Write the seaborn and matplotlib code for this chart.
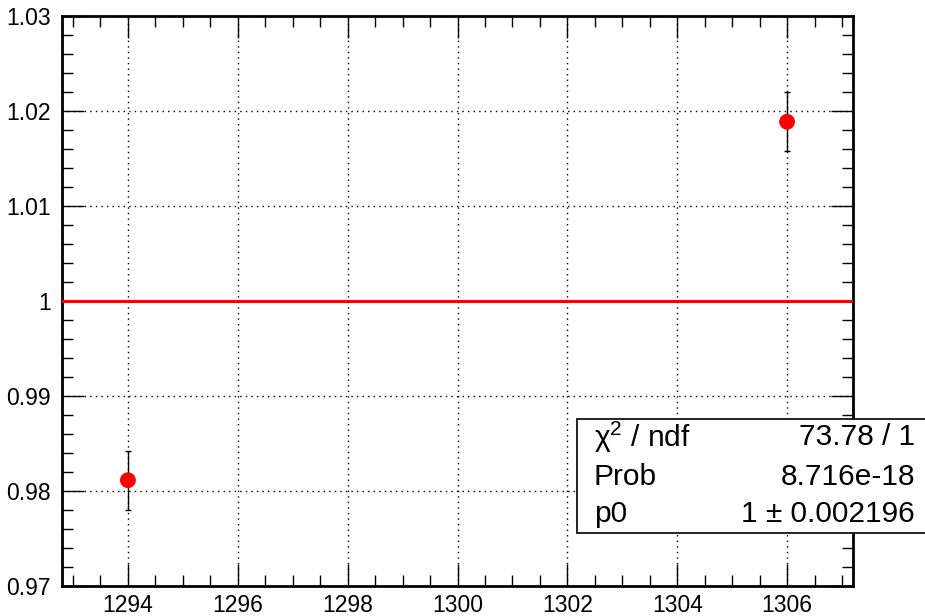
import numpy as np
import pandas as pd
import matplotlib
matplotlib.use("Agg")
import matplotlib.pyplot as plt
from matplotlib.ticker import MultipleLocator, FuncFormatter
from matplotlib.patches import Rectangle
import seaborn as sns

# measurements: run number, ratio, uncertainty
runs = [1294, 1306]
ratios = [0.981135, 1.018865]
errors = [0.003106, 0.003106]

# constant fit result
fit_p0 = 1.0
fit_p0_err = 0.002196
fit_chi2 = 73.78
fit_ndf = 1
fit_prob = "8.716e-18"

x_range = [1292.8, 1307.2]
y_range = [0.97, 1.03]

sns.set_theme(style="white")
plt.rcParams["font.family"] = ["Liberation Sans", "DejaVu Sans"]
plt.rcParams["text.color"] = "black"
plt.rcParams["xtick.color"] = "black"
plt.rcParams["ytick.color"] = "black"
plt.rcParams["mathtext.fontset"] = "custom"
plt.rcParams["mathtext.rm"] = "Liberation Sans"

df = pd.DataFrame({"run": runs, "ratio": ratios, "err": errors})
fit_df = pd.DataFrame({"run": x_range, "fit": [fit_p0, fit_p0]})

fig = plt.figure(figsize=(9.25, 6.16), dpi=100)
ax = fig.add_axes([62 / 925, 1 - 586 / 616, (853 - 62) / 925, (586 - 16) / 616])

ax.set_xlim(*x_range)
ax.set_ylim(*y_range)

# fit line
sns.lineplot(data=fit_df, x="run", y="fit", ax=ax, color="#ff0000", lw=2.2, zorder=3)

# error bars and points
ax.errorbar(df["run"], df["ratio"], yerr=df["err"], fmt="none", ecolor="black",
            elinewidth=1.0, capsize=2.5, capthick=1.0, zorder=4)
sns.scatterplot(data=df, x="run", y="ratio", ax=ax, color="#ff0000", s=130,
                edgecolor="none", zorder=5, legend=False)

ax.set_xlabel("")
ax.set_ylabel("")

ax.xaxis.set_major_locator(MultipleLocator(2))
ax.xaxis.set_minor_locator(MultipleLocator(0.5))
ax.yaxis.set_major_locator(MultipleLocator(0.01))
ax.yaxis.set_minor_locator(MultipleLocator(0.002))
ax.yaxis.set_major_formatter(FuncFormatter(
    lambda v, p: "1" if abs(v - 1) < 1e-9 else f"{v:.2f}"))

ax.tick_params(axis="both", which="both", direction="in", top=True, right=True,
               bottom=True, left=True, color="black", width=1.0,
               labelcolor="black")
ax.tick_params(axis="y", which="major", length=16, labelsize=16.5, pad=8)
ax.tick_params(axis="y", which="minor", length=8)
ax.tick_params(axis="x", which="major", length=16, labelsize=16.5, pad=6)
ax.tick_params(axis="x", which="minor", length=8)

ax.grid(True, which="major", color="black", linestyle=(0, (1, 3)), linewidth=1.0)
for s in ax.spines.values():
    s.set_color("black")
    s.set_linewidth(2.0)
    s.set_visible(True)

# statistics box
bx0, by0, by1 = 577 / 925, 1 - 533 / 616, 1 - 419 / 616
fig.patches.append(Rectangle((bx0, by0), 1.0, by1 - by0, transform=fig.transFigure,
                             facecolor="white", edgecolor="black", lw=1.2, zorder=10))
rows = [("\u03c7$^{2}$ / ndf", f"{fit_chi2:.2f} / {fit_ndf}"),
        ("Prob", fit_prob),
        ("p0", f"{fit_p0:g} \u00b1 {fit_p0_err:g}")]
ys = [437, 477, 514]
for (lab, val), yp in zip(rows, ys):
    fig.text(594 / 925, 1 - yp / 616, lab, ha="left", va="center", fontsize=21.5,
             color="black", zorder=11)
    fig.text(915 / 925, 1 - yp / 616, val, ha="right", va="center", fontsize=21.5,
             color="black", zorder=11)

fig.savefig("out.png", dpi=100, facecolor="white")
